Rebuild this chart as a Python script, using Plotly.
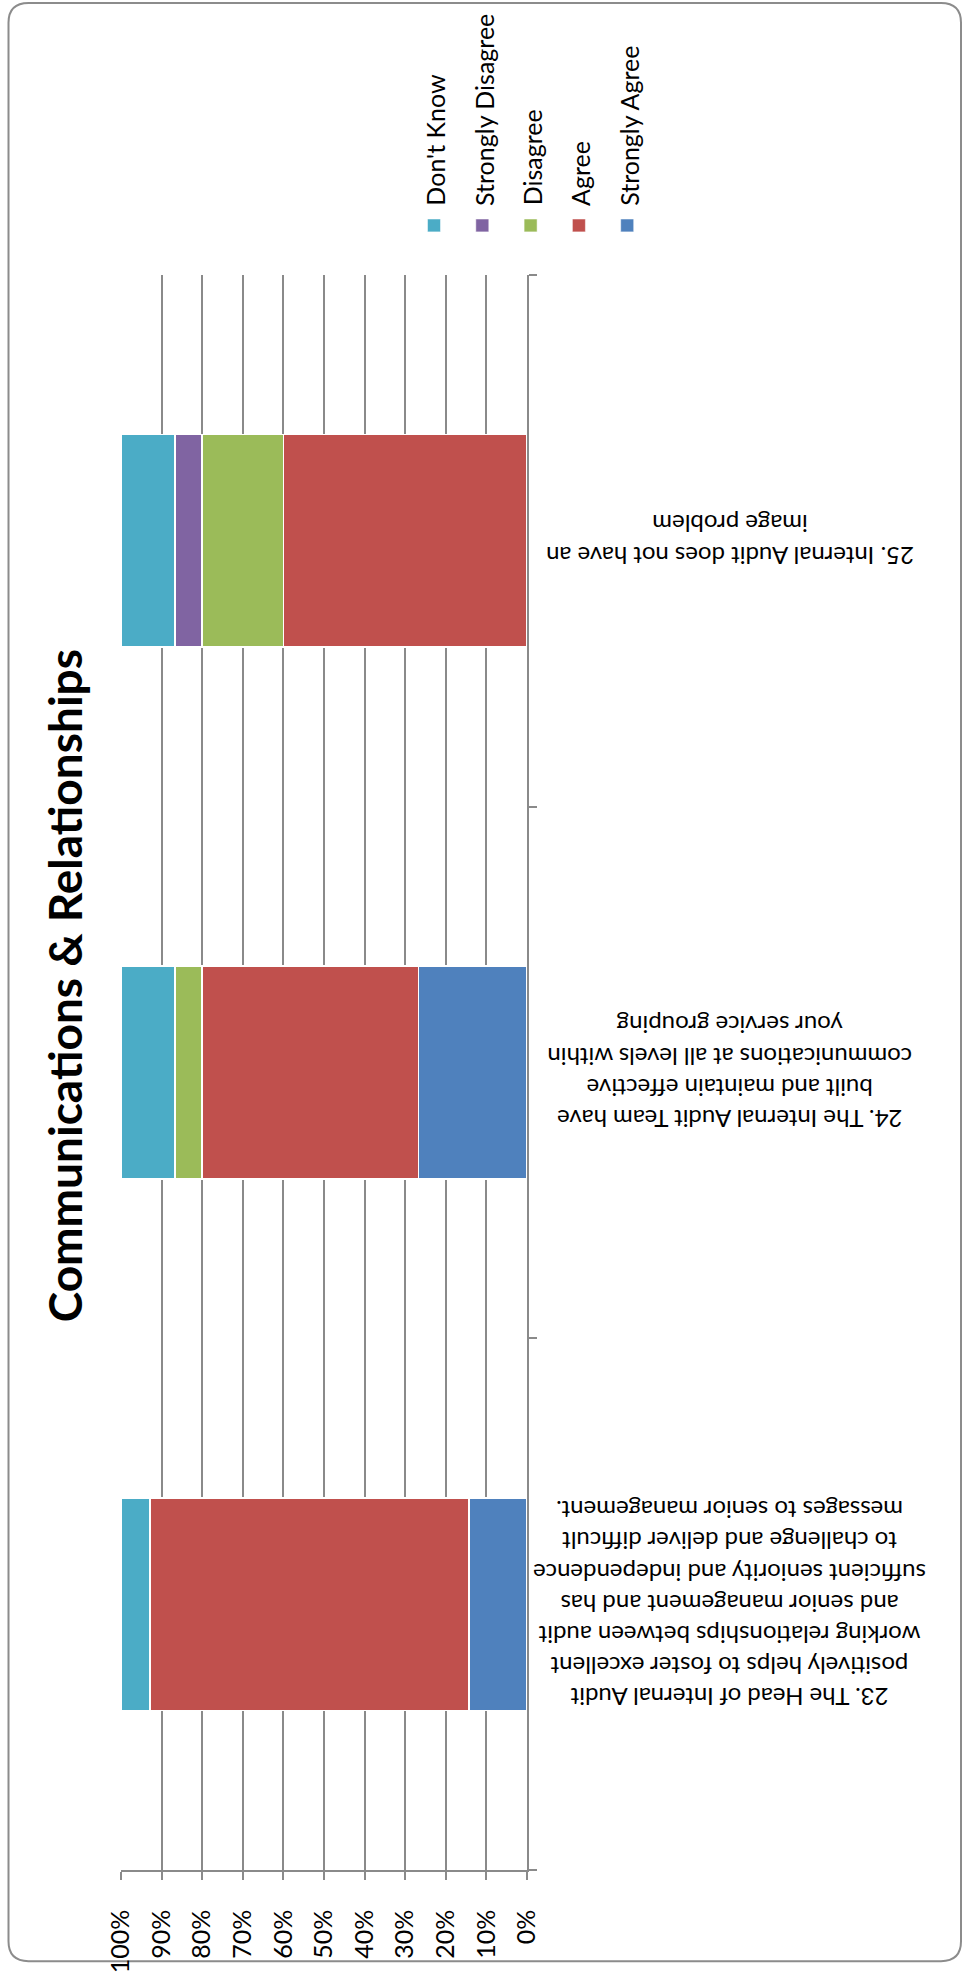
import plotly.graph_objects as go

# ---------------- data ----------------
categories = [
    "23. The Head of Internal Audit<br>positively helps to foster excellent<br>working relationships between audit<br>and senior management and has<br>sufficient seniority and independence<br>to challenge and deliver difficult<br>messages to senior management.",
    "24. The Internal Audit Team have<br>built and maintain effective<br>communications at all levels within<br>your service grouping",
    "25. Internal Audit does not have an<br>image problem",
]
series_names = ["Strongly Agree", "Agree", "Disagree", "Strongly Disagree", "Don't Know"]
strongly_agree = [14.29, 26.67, 0.0]
agree = [78.57, 53.33, 60.0]
disagree = [0.0, 6.67, 20.0]
strongly_disagree = [0.0, 0.0, 6.67]
dont_know = [7.14, 13.33, 13.33]
tick_values = [0, 10, 20, 30, 40, 50, 60, 70, 80, 90, 100]
tick_labels = ["0%", "10%", "20%", "30%", "40%", "50%", "60%", "70%", "80%", "90%", "100%"]
title_text = "Communications & Relationships"

colors = {
    "Strongly Agree": "#4F81BD",
    "Agree": "#C0504D",
    "Disagree": "#9BBB59",
    "Strongly Disagree": "#8064A2",
    "Don't Know": "#4BACC6",
}
series_values = {
    "Strongly Agree": strongly_agree,
    "Agree": agree,
    "Disagree": disagree,
    "Strongly Disagree": strongly_disagree,
    "Don't Know": dont_know,
}

# ---------------- layout geometry ----------------
W, H = 963, 1985
L, R, T, B = 121, 527, 275, 1885
FONT = "Lato"
GRID = "#8A8A8A"


def px(x):
    return (x - L) / (R - L)


def py(y):
    return (B - y) / (B - T)


fig = go.Figure()
for name in series_names:
    fig.add_trace(go.Bar(
        y=categories,
        x=series_values[name],
        name=name,
        orientation="h",
        marker=dict(color=colors[name], line=dict(color="white", width=1.5)),
        showlegend=False,
    ))

shapes = []
annotations = []

# outer rounded frame
fl, ft, fr, fb, rad = 8.5, 0.5, 961.0, 1977.0, 20.0
path = (
    f"M {px(fl + rad)},{py(ft)} L {px(fr - rad)},{py(ft)} "
    f"Q {px(fr)},{py(ft)} {px(fr)},{py(ft + rad)} "
    f"L {px(fr)},{py(fb - rad)} Q {px(fr)},{py(fb)} {px(fr - rad)},{py(fb)} "
    f"L {px(fl + rad)},{py(fb)} Q {px(fl)},{py(fb)} {px(fl)},{py(fb - rad)} "
    f"L {px(fl)},{py(ft + rad)} Q {px(fl)},{py(ft)} {px(fl + rad)},{py(ft)} Z"
)
shapes.append(dict(type="path", xref="paper", yref="paper", path=path,
                   line=dict(color="#8C8C8C", width=2), layer="below"))

# legend (drawn rotated like the reference)
legend_order = ["Don't Know", "Strongly Disagree", "Disagree", "Agree", "Strongly Agree"]
for i, name in enumerate(legend_order):
    cx = 434 + i * 48.3
    shapes.append(dict(type="rect", xref="paper", yref="paper",
                       x0=px(cx - 6.5), x1=px(cx + 6.5), y0=py(231.5), y1=py(218.5),
                       fillcolor=colors[name], line=dict(color="white", width=0.5)))
    annotations.append(dict(text=name, xref="paper", yref="paper",
                            x=px(cx + 1), y=py(207), xanchor="center", yanchor="bottom",
                            textangle=-90, showarrow=False,
                            font=dict(family=FONT, size=25, color="#000000")))

# title
annotations.append(dict(text=f"<b>{title_text}</b>", xref="paper", yref="paper",
                        x=px(64), y=py(993), xanchor="center", yanchor="middle",
                        textangle=-90, showarrow=False,
                        font=dict(family=FONT, size=46, color="#000000")))

# category labels (upside down)
for cat in categories:
    annotations.append(dict(text=cat, xref="paper", yref="y", x=px(730), y=cat,
                            xanchor="center", yanchor="middle", textangle=180,
                            align="center", showarrow=False,
                            font=dict(family=FONT, size=24, color="#000000")))

fig.update_layout(
    width=W, height=H,
    margin=dict(l=L, r=W - R, t=T, b=H - B),
    paper_bgcolor="white", plot_bgcolor="white",
    barmode="stack", bargap=0.6,
    shapes=shapes, annotations=annotations,
    showlegend=False,
    font=dict(family=FONT, size=24, color="#000000"),
)
fig.update_xaxes(
    range=[100, 0], tickmode="array", tickvals=tick_values, ticktext=tick_labels,
    tickangle=-90, ticks="outside", ticklen=8, tickcolor=GRID, tickwidth=1.5,
    showgrid=True, gridcolor=GRID, gridwidth=1.5,
    showline=True, linecolor=GRID, linewidth=1.5,
    zeroline=False, side="bottom", ticklabelstandoff=20,
    tickfont=dict(family=FONT, size=25, color="#000000"),
)
fig.update_yaxes(
    type="category", categoryorder="array", categoryarray=categories,
    side="right", showticklabels=False, ticks="outside", tickson="boundaries",
    ticklen=8, tickcolor=GRID, tickwidth=1.5,
    showline=True, linecolor=GRID, linewidth=1.5, showgrid=False,
    range=[-0.5, 2.5],
)

fig.write_html("out.html")
